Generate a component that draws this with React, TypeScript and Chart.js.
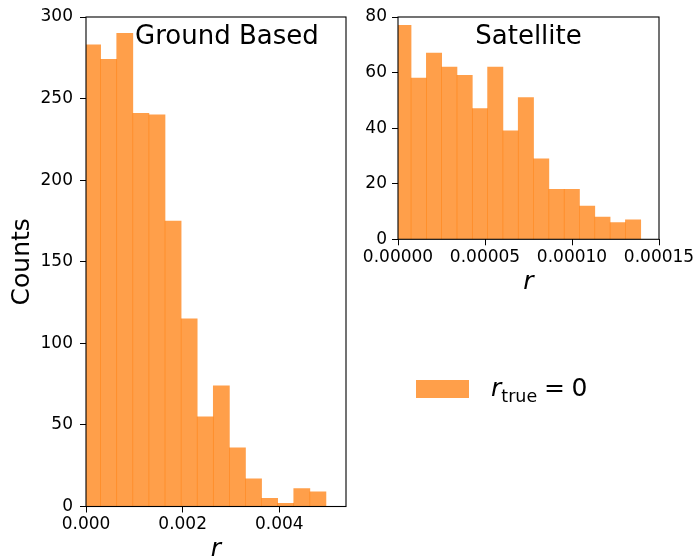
import React, { useEffect, useRef } from "react";
import { Chart, registerables } from "chart.js";

Chart.register(...registerables);

// ---- data ----
const groundCounts = [283, 274, 290, 241, 240, 175, 115, 55, 74, 36, 17, 5, 2, 11, 9];
const groundBinStart = -0.00003;
const groundBinWidth = 0.000333;
const groundXTicks = [0, 0.002, 0.004];
const groundYTicks = [0, 50, 100, 150, 200, 250, 300];

const satelliteCounts = [77, 58, 67, 62, 59, 47, 62, 39, 51, 29, 18, 18, 12, 8, 6, 7];
const satelliteBinStart = -0.0000013;
const satelliteBinWidth = 0.0000088;
const satelliteXTicks = [0, 0.00005, 0.0001, 0.00015];
const satelliteYTicks = [0, 20, 40, 60, 80];

const FONT = "'DejaVu Sans', sans-serif";
const BAR = "rgba(255,127,14,0.75)";

function toPoints(counts: number[], start: number, width: number) {
  return counts.map((c, i) => ({ x: start + (i + 0.5) * width, y: c }));
}

const boxPlugin = {
  id: "box",
  afterDatasetsDraw(chart: any) {
    const { ctx, chartArea: a } = chart;
    ctx.save();
    ctx.strokeStyle = "#000";
    ctx.lineWidth = 1.1;
    ctx.strokeRect(a.left, a.top, a.right - a.left, a.bottom - a.top);
    ctx.restore();
  },
};

function panelTitle(text: string, frac: number) {
  return {
    id: "panelTitle",
    afterDraw(chart: any) {
      const { ctx, chartArea: a } = chart;
      ctx.save();
      ctx.font = `26px ${FONT}`;
      ctx.fillStyle = "#000";
      ctx.textAlign = "center";
      ctx.textBaseline = "alphabetic";
      ctx.fillText(text, a.left + frac * (a.right - a.left), a.top + 26.5);
      ctx.restore();
    },
  };
}

const legendPlugin = {
  id: "customLegend",
  afterDraw(chart: any) {
    const { ctx } = chart;
    const color = chart.data.datasets[0].backgroundColor;
    ctx.save();
    ctx.fillStyle = color;
    ctx.fillRect(61, 380, 53, 18);
    ctx.fillStyle = "#000";
    ctx.textAlign = "left";
    ctx.textBaseline = "alphabetic";
    ctx.font = `italic 25px ${FONT}`;
    ctx.fillText("r", 136, 395.5);
    const rw = ctx.measureText("r").width;
    ctx.font = `17.5px ${FONT}`;
    ctx.fillText("true", 136 + rw, 401.5);
    ctx.font = `25px ${FONT}`;
    ctx.fillText("=", 189, 395.5);
    ctx.fillText("0", 216.5, 395.5);
    ctx.restore();
  },
};

function makeScales(opts: {
  xMax: number;
  xTicks: number[];
  xDecimals: number;
  yMax: number;
  yTicks: number[];
  yWidth: number;
  yPad: number;
  yTitle?: string;
}) {
  const tickFont = { family: FONT, size: 17 };
  const grid = {
    drawOnChartArea: false,
    drawTicks: true,
    tickLength: 6,
    color: "#000",
    lineWidth: 1,
    offset: false,
  };
  return {
    x: {
      type: "linear",
      offset: false,
      min: 0,
      max: opts.xMax,
      grid,
      border: { display: false },
      afterBuildTicks: (s: any) => {
        s.ticks = opts.xTicks.map((v) => ({ value: v }));
      },
      ticks: {
        includeBounds: false,
        autoSkip: false,
        maxRotation: 0,
        minRotation: 0,
        padding: 2,
        color: "#000",
        font: tickFont,
        callback: (v: any) => Number(v).toFixed(opts.xDecimals),
      },
      title: {
        display: true,
        text: "r",
        color: "#000",
        font: { family: FONT, size: 25, style: "italic" },
        padding: { top: 0, bottom: 2 },
      },
      afterFit: (s: any) => {
        s.height = 60;
        s.paddingLeft = 0;
        s.paddingRight = 0;
      },
    },
    y: {
      type: "linear",
      min: 0,
      max: opts.yMax,
      grid,
      border: { display: false },
      afterBuildTicks: (s: any) => {
        s.ticks = opts.yTicks.map((v) => ({ value: v }));
      },
      ticks: {
        autoSkip: false,
        padding: opts.yPad,
        color: "#000",
        font: tickFont,
      },
      title: {
        display: !!opts.yTitle,
        text: opts.yTitle || "",
        color: "#000",
        font: { family: FONT, size: 25 },
        padding: { top: 7, bottom: 0 },
      },
      afterFit: (s: any) => {
        s.width = opts.yWidth;
        s.paddingTop = 0;
        s.paddingBottom = 0;
      },
    },
  };
}

export default function App() {
  const leftRef = useRef<HTMLCanvasElement>(null);
  const rightRef = useRef<HTMLCanvasElement>(null);

  useEffect(() => {
    const left = new Chart(leftRef.current as HTMLCanvasElement, {
      type: "bar",
      data: {
        datasets: [
          {
            label: "Ground Based",
            data: toPoints(groundCounts, groundBinStart, groundBinWidth),
            backgroundColor: BAR,
            borderWidth: 0,
            barPercentage: 1,
            categoryPercentage: 1,
          } as any,
        ],
      },
      options: {
        animation: false,
        responsive: false,
        events: [],
        layout: { padding: { left: 0, top: 17, right: 24, bottom: 13.5 } },
        plugins: { legend: { display: false }, tooltip: { enabled: false } },
        scales: makeScales({
          xMax: 0.00538,
          xTicks: groundXTicks,
          xDecimals: 3,
          yMax: 300,
          yTicks: groundYTicks,
          yWidth: 86,
          yPad: 7,
          yTitle: "Counts",
        }) as any,
      },
      plugins: [boxPlugin, panelTitle("Ground Based", 0.542)],
    });

    const right = new Chart(rightRef.current as HTMLCanvasElement, {
      type: "bar",
      data: {
        datasets: [
          {
            label: "r_true = 0",
            data: toPoints(satelliteCounts, satelliteBinStart, satelliteBinWidth),
            backgroundColor: BAR,
            borderWidth: 0,
            barPercentage: 1,
            categoryPercentage: 1,
          } as any,
        ],
      },
      options: {
        animation: false,
        responsive: false,
        events: [],
        layout: { padding: { left: 0, top: 17, right: 35, bottom: 258.7 } },
        plugins: { legend: { display: false }, tooltip: { enabled: false } },
        scales: makeScales({
          xMax: 0.00015,
          xTicks: satelliteXTicks,
          xDecimals: 5,
          yMax: 80,
          yTicks: satelliteYTicks,
          yWidth: 43,
          yPad: 5,
        }) as any,
      },
      plugins: [boxPlugin, panelTitle("Satellite", 0.5), legendPlugin],
    });

    return () => {
      left.destroy();
      right.destroy();
    };
  }, []);

  return (
    <div
      style={{
        position: "absolute",
        left: 0,
        top: 0,
        width: 694,
        height: 558,
        overflow: "hidden",
        background: "#fff",
      }}
    >
      <canvas
        ref={leftRef}
        width={370}
        height={580}
        style={{ position: "absolute", left: 0, top: 0, width: 370, height: 580 }}
      />
      <canvas
        ref={rightRef}
        width={339}
        height={558}
        style={{ position: "absolute", left: 355, top: 0, width: 339, height: 558 }}
      />
    </div>
  );
}
